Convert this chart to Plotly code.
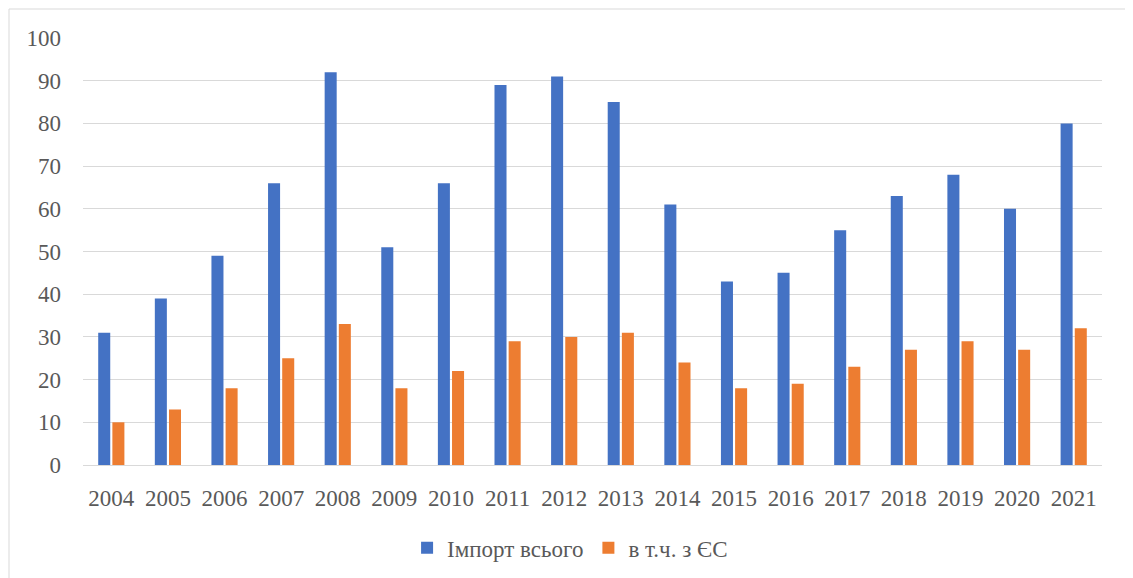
import plotly.graph_objects as go

years = ["2004", "2005", "2006", "2007", "2008", "2009", "2010", "2011", "2012",
         "2013", "2014", "2015", "2016", "2017", "2018", "2019", "2020", "2021"]
import_total = [31, 39, 49, 66, 92, 51, 66, 89, 91, 85, 61, 43, 45, 55, 63, 68, 60, 80]
import_eu = [10, 13, 18, 25, 33, 18, 22, 29, 30, 31, 24, 18, 19, 23, 27, 29, 27, 32]
y_ticks = [0, 10, 20, 30, 40, 50, 60, 70, 80, 90, 100]

# page body has an 8px margin; compensate
OFF = 8
W, H = 1133, 578
L, T = 83 - OFF, 38 - OFF
pw, ph = 1019, 427
R = W - L - pw
B = H - T - ph

fig = go.Figure()
fig.add_trace(go.Bar(x=years, y=import_total, name="Імпорт всього",
                     marker=dict(color="#4472C4", line=dict(width=0))))
fig.add_trace(go.Bar(x=years, y=import_eu, name="в т.ч. з ЄС",
                     marker=dict(color="#ED7D31", line=dict(width=0))))

font = dict(family="Liberation Serif", size=23, color="#595959")
fig.update_layout(
    width=W, height=H,
    margin=dict(l=L, r=R, t=T, b=B),
    paper_bgcolor="white", plot_bgcolor="white",
    barmode="group", bargap=0.5, bargroupgap=0.15,
    font=font,
    showlegend=True,
    legend=dict(orientation="h", x=0.478, xanchor="center", y=-0.194, yanchor="middle",
                font=font, itemwidth=30, traceorder="normal"),
    xaxis=dict(showgrid=False, showline=True, linecolor="#D9D9D9", linewidth=1,
               ticks="", tickfont=font, ticklabelstandoff=12, fixedrange=True),
    yaxis=dict(range=[0, 100], tickvals=y_ticks, showgrid=True, gridcolor="#D9D9D9",
               gridwidth=1, zeroline=False, showline=False, ticks="",
               tickfont=font, ticklabelstandoff=21),
    shapes=[dict(type="rect", xref="paper", yref="paper",
                 x0=(9 - OFF - L) / pw, x1=(1131 - OFF - L) / pw,
                 y0=(T + ph - 600) / ph, y1=(T + ph - (9 - OFF)) / ph,
                 line=dict(color="#D9D9D9", width=1), fillcolor="rgba(0,0,0,0)",
                 layer="below")],
)
fig.write_html("out.html")
